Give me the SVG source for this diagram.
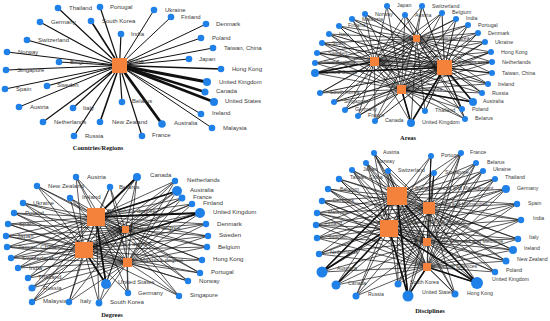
<svg xmlns="http://www.w3.org/2000/svg" width="550" height="321" viewBox="0 0 550 321">
<style>
.n{fill:#1f80e8}
.s{fill:#f5823a}
.e{fill:none;stroke:#111;stroke-width:.7}
.e1{fill:none;stroke:#111}
text{font-family:"Liberation Sans",Arial,sans-serif;fill:#3a3a3a}
.p1 text{font-size:6px}
.p2 text{font-size:5.3px}
.p3 text{font-size:6.1px}
.p4 text{font-size:5.2px}
.ttl{font-family:"Liberation Serif","Times New Roman",serif;font-weight:bold;font-size:6.4px;fill:#111;text-anchor:middle}
</style>
<rect width="550" height="321" fill="#fff"/>
<g id="connectors">
<g class="e1">
<path stroke-width="1.2" d="M119.5 65.5L58 8M119.5 65.5L100 7M119.5 65.5L40 22M119.5 65.5L121 34M119.5 65.5L27 40M119.5 65.5L59 62M119.5 65.5L6 70M119.5 65.5L142 136M119.5 65.5L122 102M119.5 65.5L43 122M119.5 65.5L74 136M119.5 65.5L73 108M119.5 65.5L47 86"/>
<path stroke-width="1.6" d="M119.5 65.5L91 21M119.5 65.5L221 69M119.5 65.5L100 122"/>
<path stroke-width="1" d="M119.5 65.5L7 52M119.5 65.5L154 10M119.5 65.5L171 17M119.5 65.5L206 24M119.5 65.5L201 38M119.5 65.5L213 48M119.5 65.5L189 59M119.5 65.5L201 114M119.5 65.5L212 128M119.5 65.5L19 107M119.5 65.5L5 89"/>
<path stroke-width="2.8" d="M119.5 65.5L207 82M119.5 65.5L214 102M119.5 65.5L162 124"/>
<path stroke-width="2.4" d="M119.5 65.5L205 92"/>
</g>
<path class="e" d="M387 6L374.5 61.5L365 14M405 15L374.5 61.5L422 6M442 13L374.5 61.5L456 19M468 25L374.5 61.5L478 33M485 42L374.5 61.5L491 52M492 62L374.5 61.5L492 73M488 84L374.5 61.5L482 93M473 102L374.5 61.5L462 109M465 119L374.5 61.5L425 111M411 123L374.5 61.5L375 121M358 116L374.5 61.5L345 110M334 102L374.5 61.5L320 93M315 73L374.5 61.5L315 63M317 53L374.5 61.5L322 43M329 34L374.5 61.5L339 26M352 19L374.5 61.5"/>
<path class="e" style="stroke-width:.9" d="M387 6L444.5 67.5L365 14M405 15L444.5 67.5L422 6M442 13L444.5 67.5L456 19M468 25L444.5 67.5L478 33M485 42L444.5 67.5L491 52M492 62L444.5 67.5L492 73M488 84L444.5 67.5L482 93M473 102L444.5 67.5L462 109M465 119L444.5 67.5L425 111M411 123L444.5 67.5L375 121M358 116L444.5 67.5L345 110M334 102L444.5 67.5L320 93M315 73L444.5 67.5L315 63M317 53L444.5 67.5L322 43M329 34L444.5 67.5L339 26M352 19L444.5 67.5"/>
<path class="e" d="M387 6L416.5 38.5L365 14M405 15L416.5 38.5L422 6M442 13L416.5 38.5L456 19M468 25L416.5 38.5L478 33M485 42L416.5 38.5L491 52M492 62L416.5 38.5L492 73M488 84L416.5 38.5L482 93M473 102L416.5 38.5L462 109M465 119L416.5 38.5L425 111M411 123L416.5 38.5L375 121M358 116L416.5 38.5L345 110M334 102L416.5 38.5L320 93M315 73L416.5 38.5L315 63M317 53L416.5 38.5L322 43M329 34L416.5 38.5L339 26M352 19L416.5 38.5"/>
<path class="e" d="M387 6L401.5 89.5L365 14M405 15L401.5 89.5L422 6M442 13L401.5 89.5L456 19M468 25L401.5 89.5L478 33M485 42L401.5 89.5L491 52M492 62L401.5 89.5L492 73M488 84L401.5 89.5L482 93M473 102L401.5 89.5L462 109M465 119L401.5 89.5L425 111M411 123L401.5 89.5L375 121M358 116L401.5 89.5L345 110M334 102L401.5 89.5L320 93M315 73L401.5 89.5L315 63M317 53L401.5 89.5L322 43M329 34L401.5 89.5L339 26M352 19L401.5 89.5"/>
<path class="e1" stroke-width="1.6" d="M473 102L444.5 67.5M411 123L444.5 67.5M411 123L401.5 89.5M315 73L374.5 61.5M315 73L444.5 67.5M473 102L401.5 89.5"/>
<path class="e" d="M76 177L96 217L37 186M70 198L96 217L110 187M137 177L96 217L23 203M14 213L96 217L8 224M6 236L96 217L7 247M11 258L96 217L18 268M28 278L96 217L32 288M32 302L96 217L69 302M99 303L96 217L106 284M128 293L96 217L175 181M177 191L96 217L182 198M192 204L96 217L200 213M206 224L96 217L208 236M207 247L96 217L202 260M200 273L96 217L188 281M179 296L96 217"/>
<path class="e" d="M76 177L84 250L37 186M70 198L84 250L110 187M137 177L84 250L23 203M14 213L84 250L8 224M6 236L84 250L7 247M11 258L84 250L18 268M28 278L84 250L32 288M32 302L84 250L69 302M99 303L84 250L106 284M128 293L84 250L175 181M177 191L84 250L182 198M192 204L84 250L200 213M206 224L84 250L208 236M207 247L84 250L202 260M200 273L84 250L188 281M179 296L84 250"/>
<path class="e" d="M76 177L125.5 229.5L37 186M70 198L125.5 229.5L110 187M137 177L125.5 229.5L23 203M14 213L125.5 229.5L8 224M6 236L125.5 229.5L7 247M11 258L125.5 229.5L18 268M28 278L125.5 229.5L32 288M32 302L125.5 229.5L69 302M99 303L125.5 229.5L106 284M128 293L125.5 229.5L175 181M177 191L125.5 229.5L182 198M192 204L125.5 229.5L200 213M206 224L125.5 229.5L208 236M207 247L125.5 229.5L202 260M200 273L125.5 229.5L188 281M179 296L125.5 229.5"/>
<path class="e" d="M76 177L127.5 262.5L37 186M70 198L127.5 262.5L110 187M137 177L127.5 262.5L23 203M14 213L127.5 262.5L8 224M6 236L127.5 262.5L7 247M11 258L127.5 262.5L18 268M28 278L127.5 262.5L32 288M32 302L127.5 262.5L69 302M99 303L127.5 262.5L106 284M128 293L127.5 262.5L175 181M177 191L127.5 262.5L182 198M192 204L127.5 262.5L200 213M206 224L127.5 262.5L208 236M207 247L127.5 262.5L202 260M200 273L127.5 262.5L188 281M179 296L127.5 262.5"/>
<path class="e1" stroke-width="1.8" d="M200 213L96 217M177 191L96 217M106 284L84 250M137 177L96 217M200 213L84 250M106 284L96 217"/>
<path class="e" d="M374 153L397 196L431 156M461 153L397 196L366 163M352 170L397 196L388 171M434 173L397 196L476 163M483 171L397 196L495 179M506 189L397 196L517 204M521 220L397 196L518 239M513 250L397 196L506 261M495 272L397 196L477 283M455 294L397 196L408 296M398 284L397 196L356 296M336 285L397 196L322 272M319 254L397 196L317 238M316 225L397 196L317 213M322 201L397 196L328 189M339 179L397 196"/>
<path class="e" d="M374 153L429 208L431 156M461 153L429 208L366 163M352 170L429 208L388 171M434 173L429 208L476 163M483 171L429 208L495 179M506 189L429 208L517 204M521 220L429 208L518 239M513 250L429 208L506 261M495 272L429 208L477 283M455 294L429 208L408 296M398 284L429 208L356 296M336 285L429 208L322 272M319 254L429 208L317 238M316 225L429 208L317 213M322 201L429 208L328 189M339 179L429 208"/>
<path class="e" d="M374 153L389 228.5L431 156M461 153L389 228.5L366 163M352 170L389 228.5L388 171M434 173L389 228.5L476 163M483 171L389 228.5L495 179M506 189L389 228.5L517 204M521 220L389 228.5L518 239M513 250L389 228.5L506 261M495 272L389 228.5L477 283M455 294L389 228.5L408 296M398 284L389 228.5L356 296M336 285L389 228.5L322 272M319 254L389 228.5L317 238M316 225L389 228.5L317 213M322 201L389 228.5L328 189M339 179L389 228.5"/>
<path class="e" d="M374 153L427 242L431 156M461 153L427 242L366 163M352 170L427 242L388 171M434 173L427 242L476 163M483 171L427 242L495 179M506 189L427 242L517 204M521 220L427 242L518 239M513 250L427 242L506 261M495 272L427 242L477 283M455 294L427 242L408 296M398 284L427 242L356 296M336 285L427 242L322 272M319 254L427 242L317 238M316 225L427 242L317 213M322 201L427 242L328 189M339 179L427 242"/>
<path class="e" d="M374 153L427 267L431 156M461 153L427 267L366 163M352 170L427 267L388 171M434 173L427 267L476 163M483 171L427 267L495 179M506 189L427 267L517 204M521 220L427 267L518 239M513 250L427 267L506 261M495 272L427 267L477 283M455 294L427 267L408 296M398 284L427 267L356 296M336 285L427 267L322 272M319 254L427 267L317 238M316 225L427 267L317 213M322 201L427 267L328 189M339 179L427 267"/>
<path class="e1" stroke-width="1.6" d="M477 283L397 196M477 283L389 228.5M408 296L397 196M408 296L389 228.5M322 272L397 196M322 272L389 228.5M336 285L389 228.5M477 283L427 267M408 296L427 267"/>
</g>

<g class="p1">
<g id="cr-china"><rect class="s" x="112" y="58" width="15" height="15"/><text x="128" y="63">China</text></g>
<g id="cr-thailand"><circle class="n" cx="58" cy="8" r="3.3"/><text x="69" y="10">Thailand</text></g>
<g id="cr-portugal"><circle class="n" cx="100" cy="7" r="3.3"/><text x="110" y="9">Portugal</text></g>
<g id="cr-germany"><circle class="n" cx="40" cy="22" r="3.3"/><text x="51" y="24">Germany</text></g>
<g id="cr-southkorea"><circle class="n" cx="91" cy="21" r="3.3"/><text x="102" y="23">South Korea</text></g>
<g id="cr-india"><circle class="n" cx="121" cy="34" r="3.3"/><text x="131" y="36">India</text></g>
<g id="cr-switzerland"><circle class="n" cx="27" cy="40" r="3.3"/><text x="38" y="42">Switzerland</text></g>
<g id="cr-norway"><circle class="n" cx="7" cy="52" r="3.3"/><text x="18" y="54">Norway</text></g>
<g id="cr-belgium"><circle class="n" cx="59" cy="62" r="3.3"/><text x="70" y="64">Belgium</text></g>
<g id="cr-singapore"><circle class="n" cx="6" cy="70" r="3.3"/><text x="17" y="72">Singapore</text></g>
<g id="cr-ukraine"><circle class="n" cx="154" cy="10" r="3.3"/><text x="165" y="12">Ukraine</text></g>
<g id="cr-finland"><circle class="n" cx="171" cy="17" r="3.3"/><text x="181" y="19">Finland</text></g>
<g id="cr-denmark"><circle class="n" cx="206" cy="24" r="3.3"/><text x="216" y="26">Denmark</text></g>
<g id="cr-poland"><circle class="n" cx="201" cy="38" r="3.3"/><text x="212" y="40">Poland</text></g>
<g id="cr-taiwan"><circle class="n" cx="213" cy="48" r="3.3"/><text x="224" y="50">Taiwan, China</text></g>
<g id="cr-japan"><circle class="n" cx="189" cy="59" r="3.3"/><text x="199" y="61">Japan</text></g>
<g id="cr-hongkong"><circle class="n" cx="221" cy="69" r="3.3"/><text x="232" y="71">Hong Kong</text></g>
<g id="cr-uk"><circle class="n" cx="207" cy="82" r="4"/><text x="219" y="84">United Kingdom</text></g>
<g id="cr-canada"><circle class="n" cx="205" cy="92" r="3.5"/><text x="216" y="93">Canada</text></g>
<g id="cr-us"><circle class="n" cx="214" cy="102" r="4"/><text x="225" y="103">United States</text></g>
<g id="cr-ireland"><circle class="n" cx="201" cy="114" r="3.3"/><text x="212" y="115">Ireland</text></g>
<g id="cr-malaysia"><circle class="n" cx="212" cy="128" r="3.3"/><text x="223" y="130">Malaysia</text></g>
<g id="cr-australia"><circle class="n" cx="162" cy="124" r="3.8"/><text x="174" y="125">Australia</text></g>
<g id="cr-france"><circle class="n" cx="142" cy="136" r="3.3"/><text x="152" y="137">France</text></g>
<g id="cr-belarus"><circle class="n" cx="122" cy="102" r="3.3"/><text x="132" y="103">Belarus</text></g>
<g id="cr-newzealand"><circle class="n" cx="100" cy="122" r="3.3"/><text x="112" y="124">New Zealand</text></g>
<g id="cr-netherlands"><circle class="n" cx="43" cy="122" r="3.3"/><text x="54" y="124">Netherlands</text></g>
<g id="cr-russia"><circle class="n" cx="74" cy="136" r="3.3"/><text x="85" y="138">Russia</text></g>
<g id="cr-italy"><circle class="n" cx="73" cy="108" r="3.3"/><text x="83" y="110">Italy</text></g>
<g id="cr-austria"><circle class="n" cx="19" cy="107" r="3.3"/><text x="30" y="109">Austria</text></g>
<g id="cr-spain"><circle class="n" cx="5" cy="89" r="3.3"/><text x="16" y="91">Spain</text></g>
<g id="cr-sweden"><circle class="n" cx="47" cy="86" r="3.3"/><text x="57" y="87">Sweden</text></g>
</g>
<text class="ttl" x="98" y="150">Countries/Regions</text>

<g class="p2">
<g id="ar-northeastern"><rect class="s" x="413" y="35" width="7" height="7"/><text x="427" y="40">Northeastern area</text></g>
<g id="ar-eastern"><rect class="s" x="437" y="60" width="15" height="15"/><text x="458" y="64">Eastern area</text></g>
<g id="ar-western"><rect class="s" x="370" y="57" width="9" height="9"/><text x="381" y="63">Western area</text></g>
<g id="ar-central"><rect class="s" x="397" y="85" width="9" height="9"/><text x="413" y="91">Central area</text></g>
<g id="ar-japan"><circle class="n" cx="387" cy="6" r="3"/><text x="397" y="7">Japan</text></g>
<g id="ar-norway"><circle class="n" cx="365" cy="14" r="3"/><text x="375" y="16">Norway</text></g>
<g id="ar-austria"><circle class="n" cx="405" cy="15" r="3"/><text x="415" y="17">Austria</text></g>
<g id="ar-switzerland"><circle class="n" cx="422" cy="6" r="3"/><text x="432" y="8">Switzerland</text></g>
<g id="ar-belgium"><circle class="n" cx="442" cy="13" r="3"/><text x="452" y="14">Belgium</text></g>
<g id="ar-india"><circle class="n" cx="456" cy="19" r="3"/><text x="466" y="20">India</text></g>
<g id="ar-portugal"><circle class="n" cx="468" cy="25" r="3"/><text x="478" y="27">Portugal</text></g>
<g id="ar-denmark"><circle class="n" cx="478" cy="33" r="3"/><text x="488" y="35">Denmark</text></g>
<g id="ar-ukraine"><circle class="n" cx="485" cy="42" r="3"/><text x="495" y="44">Ukraine</text></g>
<g id="ar-hongkong"><circle class="n" cx="491" cy="52" r="3"/><text x="501" y="54">Hong Kong</text></g>
<g id="ar-netherlands"><circle class="n" cx="492" cy="62" r="3"/><text x="502" y="64">Netherlands</text></g>
<g id="ar-taiwan"><circle class="n" cx="492" cy="73" r="3"/><text x="502" y="75">Taiwan, China</text></g>
<g id="ar-ireland"><circle class="n" cx="488" cy="84" r="3"/><text x="498" y="86">Ireland</text></g>
<g id="ar-russia"><circle class="n" cx="482" cy="93" r="3"/><text x="492" y="95">Russia</text></g>
<g id="ar-australia"><circle class="n" cx="473" cy="102" r="4"/><text x="483" y="103">Australia</text></g>
<g id="ar-poland"><circle class="n" cx="462" cy="109" r="3"/><text x="472" y="111">Poland</text></g>
<g id="ar-belarus"><circle class="n" cx="465" cy="119" r="3"/><text x="475" y="120">Belarus</text></g>
<g id="ar-thailand"><circle class="n" cx="425" cy="111" r="3"/><text x="435" y="112">Thailand</text></g>
<g id="ar-uk"><circle class="n" cx="411" cy="123" r="4"/><text x="422" y="124">United Kingdom</text></g>
<g id="ar-canada"><circle class="n" cx="375" cy="121" r="3"/><text x="385" y="122">Canada</text></g>
<g id="ar-france"><circle class="n" cx="358" cy="116" r="3"/><text x="368" y="117">France</text></g>
<g id="ar-germany"><circle class="n" cx="345" cy="110" r="3"/><text x="355" y="111">Germany</text></g>
<g id="ar-singapore"><circle class="n" cx="334" cy="102" r="3"/><text x="344" y="103">Singapore</text></g>
<g id="ar-southkorea"><circle class="n" cx="320" cy="93" r="3"/><text x="330" y="94">South Korea</text></g>
<g id="ar-us"><circle class="n" cx="315" cy="73" r="4"/><text x="325" y="74">United States</text></g>
<g id="ar-newzealand"><circle class="n" cx="315" cy="63" r="3"/><text x="324" y="64">New Zealand</text></g>
<g id="ar-sweden"><circle class="n" cx="317" cy="53" r="3"/><text x="328" y="55">Sweden</text></g>
<g id="ar-spain"><circle class="n" cx="322" cy="43" r="3"/><text x="332" y="45">Spain</text></g>
<g id="ar-italy"><circle class="n" cx="329" cy="34" r="3"/><text x="339" y="36">Italy</text></g>
<g id="ar-finland"><circle class="n" cx="339" cy="26" r="3"/><text x="348" y="27">Finland</text></g>
<g id="ar-malaysia"><circle class="n" cx="352" cy="19" r="3"/><text x="362" y="21">Malaysia</text></g>
</g>
<text class="ttl" x="408" y="140">Areas</text>

<g class="p3">
<g id="dg-bachelor"><rect class="s" x="87" y="208" width="18" height="18"/><text x="107" y="213">Bachelor's degree</text></g>
<g id="dg-associate"><rect class="s" x="75" y="242" width="18" height="16"/><text x="100" y="246">Associate's degree</text></g>
<g id="dg-doctoral"><rect class="s" x="122" y="226" width="7" height="7"/><text x="137" y="230">Doctoral degree</text></g>
<g id="dg-master"><rect class="s" x="123" y="258" width="9" height="9"/><text x="140" y="262">Master's degree</text></g>
<g id="dg-austria"><circle class="n" cx="76" cy="177" r="3.2"/><text x="87" y="179">Austria</text></g>
<g id="dg-newzealand"><circle class="n" cx="37" cy="186" r="3.2"/><text x="48" y="188">New Zealand</text></g>
<g id="dg-ireland"><circle class="n" cx="70" cy="198" r="3.2"/><text x="82" y="199">Ireland</text></g>
<g id="dg-belarus"><circle class="n" cx="110" cy="187" r="3.2"/><text x="119" y="189">Belarus</text></g>
<g id="dg-canada"><circle class="n" cx="137" cy="177" r="4"/><text x="150" y="177">Canada</text></g>
<g id="dg-ukraine"><circle class="n" cx="23" cy="203" r="3.2"/><text x="33" y="205">Ukraine</text></g>
<g id="dg-poland"><circle class="n" cx="14" cy="213" r="3.2"/><text x="25" y="215">Poland</text></g>
<g id="dg-spain"><circle class="n" cx="8" cy="224" r="3.2"/><text x="19" y="226">Spain</text></g>
<g id="dg-japan"><circle class="n" cx="6" cy="236" r="3.2"/><text x="17" y="238">Japan</text></g>
<g id="dg-taiwan"><circle class="n" cx="7" cy="247" r="3.2"/><text x="18" y="249">Taiwan, China</text></g>
<g id="dg-switzerland"><circle class="n" cx="11" cy="258" r="3.2"/><text x="22" y="260">Switzerland</text></g>
<g id="dg-india"><circle class="n" cx="18" cy="268" r="3.2"/><text x="29" y="270">India</text></g>
<g id="dg-thailand"><circle class="n" cx="28" cy="278" r="3.2"/><text x="38" y="279">Thailand</text></g>
<g id="dg-russia"><circle class="n" cx="32" cy="288" r="3.6"/><text x="43" y="290">Russia</text></g>
<g id="dg-malaysia"><circle class="n" cx="32" cy="302" r="3.2"/><text x="43" y="303">Malaysia</text></g>
<g id="dg-italy"><circle class="n" cx="69" cy="302" r="3.2"/><text x="80" y="303">Italy</text></g>
<g id="dg-southkorea"><circle class="n" cx="99" cy="303" r="3.4"/><text x="110" y="304">South Korea</text></g>
<g id="dg-us"><circle class="n" cx="106" cy="284" r="5"/><text x="118" y="284">United States</text></g>
<g id="dg-germany"><circle class="n" cx="128" cy="293" r="3.2"/><text x="138" y="295">Germany</text></g>
<g id="dg-netherlands"><circle class="n" cx="175" cy="181" r="3.2"/><text x="187" y="182">Netherlands</text></g>
<g id="dg-australia"><circle class="n" cx="177" cy="191" r="5"/><text x="190" y="192">Australia</text></g>
<g id="dg-france"><circle class="n" cx="182" cy="198" r="3.4"/><text x="193" y="199">France</text></g>
<g id="dg-finland"><circle class="n" cx="192" cy="204" r="3.2"/><text x="203" y="205">Finland</text></g>
<g id="dg-uk"><circle class="n" cx="200" cy="213" r="5"/><text x="213" y="214">United Kingdom</text></g>
<g id="dg-denmark"><circle class="n" cx="206" cy="224" r="3.2"/><text x="217" y="226">Denmark</text></g>
<g id="dg-sweden"><circle class="n" cx="208" cy="236" r="3.2"/><text x="219" y="237">Sweden</text></g>
<g id="dg-belgium"><circle class="n" cx="207" cy="247" r="3.2"/><text x="218" y="249">Belgium</text></g>
<g id="dg-hongkong"><circle class="n" cx="202" cy="260" r="3.2"/><text x="213" y="261">Hong Kong</text></g>
<g id="dg-portugal"><circle class="n" cx="200" cy="273" r="3.2"/><text x="211" y="274">Portugal</text></g>
<g id="dg-norway"><circle class="n" cx="188" cy="281" r="3.2"/><text x="199" y="283">Norway</text></g>
<g id="dg-singapore"><circle class="n" cx="179" cy="296" r="3.2"/><text x="190" y="297">Singapore</text></g>
</g>
<text class="ttl" x="112" y="317">Degrees</text>

<g class="p4">
<g id="ds-ssm"><rect class="s" x="387" y="187" width="20" height="18"/><text x="415" y="190">Social Sciences and Management</text></g>
<g id="ds-ah"><rect class="s" x="423" y="202" width="12" height="12"/><text x="441" y="206">Arts and Humanities</text></g>
<g id="ds-et"><rect class="s" x="380" y="220" width="18" height="17"/><text x="401" y="224">Engineering and Technology</text></g>
<g id="ds-lsm"><rect class="s" x="423" y="238" width="8" height="8"/><text x="440" y="243">Life Sciences and Medicine</text></g>
<g id="ds-ns"><rect class="s" x="423" y="263" width="8" height="8"/><text x="438" y="268">Natural Sciences</text></g>
<g id="ds-austria"><circle class="n" cx="374" cy="153" r="3"/><text x="383" y="154">Austria</text></g>
<g id="ds-portugal"><circle class="n" cx="431" cy="156" r="3"/><text x="441" y="157">Portugal</text></g>
<g id="ds-france"><circle class="n" cx="461" cy="153" r="3"/><text x="470" y="154">France</text></g>
<g id="ds-norway"><circle class="n" cx="366" cy="163" r="3"/><text x="377" y="163">Norway</text></g>
<g id="ds-japan"><circle class="n" cx="352" cy="170" r="3"/><text x="363" y="171">Japan</text></g>
<g id="ds-switzerland"><circle class="n" cx="388" cy="171" r="3"/><text x="398" y="172">Switzerland</text></g>
<g id="ds-singapore"><circle class="n" cx="434" cy="173" r="3"/><text x="445" y="174">Singapore</text></g>
<g id="ds-belarus"><circle class="n" cx="476" cy="163" r="3"/><text x="487" y="164">Belarus</text></g>
<g id="ds-ukraine"><circle class="n" cx="483" cy="171" r="3"/><text x="493" y="171">Ukraine</text></g>
<g id="ds-thailand"><circle class="n" cx="495" cy="179" r="3"/><text x="505" y="179">Thailand</text></g>
<g id="ds-germany"><circle class="n" cx="506" cy="189" r="4"/><text x="517" y="190">Germany</text></g>
<g id="ds-spain"><circle class="n" cx="517" cy="204" r="3.2"/><text x="528" y="205">Spain</text></g>
<g id="ds-india"><circle class="n" cx="521" cy="220" r="3.2"/><text x="533" y="220">India</text></g>
<g id="ds-italy"><circle class="n" cx="518" cy="239" r="3.2"/><text x="529" y="239">Italy</text></g>
<g id="ds-ireland"><circle class="n" cx="513" cy="250" r="4"/><text x="524" y="250">Ireland</text></g>
<g id="ds-newzealand"><circle class="n" cx="506" cy="261" r="3.5"/><text x="517" y="261">New Zealand</text></g>
<g id="ds-poland"><circle class="n" cx="495" cy="272" r="3.2"/><text x="506" y="272">Poland</text></g>
<g id="ds-uk"><circle class="n" cx="477" cy="283" r="6"/><text x="492" y="281">United Kingdom</text></g>
<g id="ds-hongkong"><circle class="n" cx="455" cy="294" r="3.5"/><text x="467" y="295">Hong Kong</text></g>
<g id="ds-us"><circle class="n" cx="408" cy="296" r="5.5"/><text x="422" y="294">United States</text></g>
<g id="ds-southkorea"><circle class="n" cx="398" cy="284" r="3.5"/><text x="410" y="284">South Korea</text></g>
<g id="ds-russia"><circle class="n" cx="356" cy="296" r="3.5"/><text x="368" y="296">Russia</text></g>
<g id="ds-canada"><circle class="n" cx="336" cy="285" r="4.5"/><text x="348" y="285">Canada</text></g>
<g id="ds-australia"><circle class="n" cx="322" cy="272" r="5.5"/><text x="337" y="270">Australia</text></g>
<g id="ds-netherlands"><circle class="n" cx="319" cy="254" r="3.2"/><text x="330" y="254">Netherlands</text></g>
<g id="ds-sweden"><circle class="n" cx="317" cy="238" r="3.2"/><text x="328" y="239">Sweden</text></g>
<g id="ds-finland"><circle class="n" cx="316" cy="225" r="3.2"/><text x="325" y="225">Finland</text></g>
<g id="ds-malaysia"><circle class="n" cx="317" cy="213" r="3.2"/><text x="328" y="214">Malaysia</text></g>
<g id="ds-denmark"><circle class="n" cx="322" cy="201" r="3.2"/><text x="333" y="202">Denmark</text></g>
<g id="ds-belgium"><circle class="n" cx="328" cy="189" r="3.2"/><text x="340" y="191">Belgium</text></g>
<g id="ds-taiwan"><circle class="n" cx="339" cy="179" r="3.2"/><text x="350" y="179">Taiwan, China</text></g>
</g>
<text class="ttl" x="430" y="313">Disciplines</text>
</svg>
